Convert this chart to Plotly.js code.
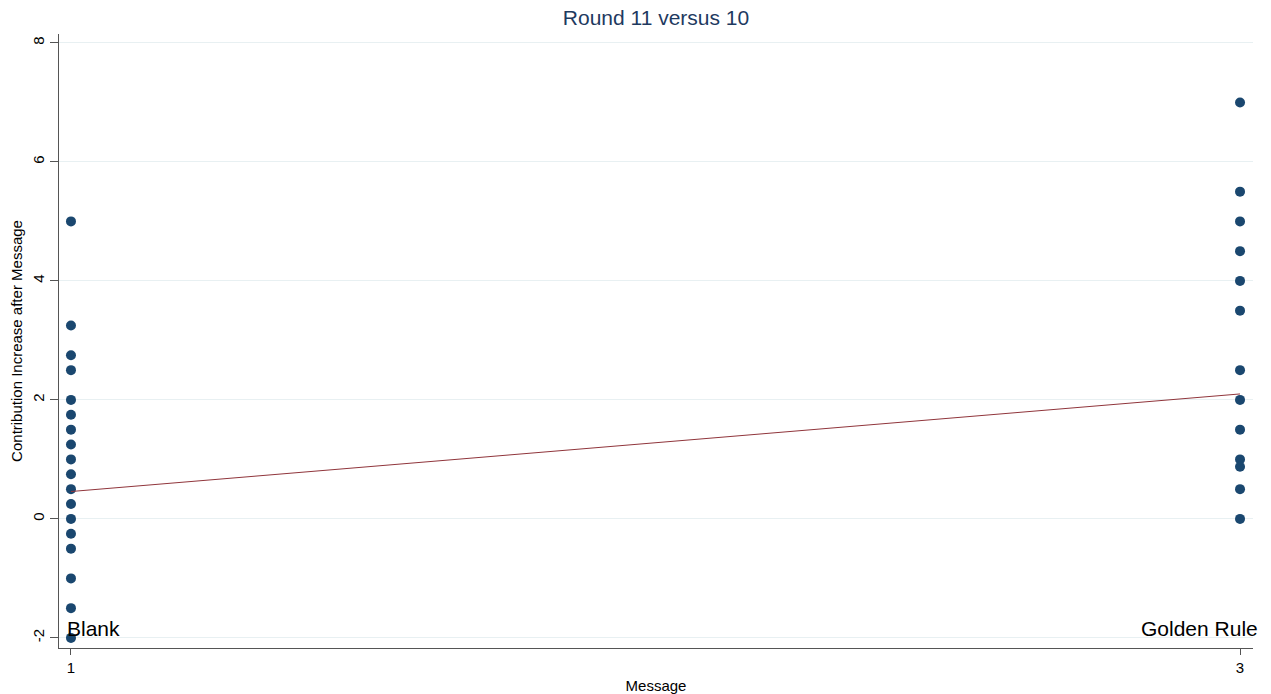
<!DOCTYPE html>
<html>
<head>
<meta charset="utf-8">
<script src="https://cdn.plot.ly/plotly-3.0.1.min.js"></script>
<style>html,body{margin:0;padding:0;background:#fff;}#chart{width:1271px;height:694px;}</style>
</head>
<body>
<div id="chart"></div>
<script>
// Data
const blankX = [1,1,1,1,1,1,1,1,1,1,1,1,1,1,1,1,1,1];
const blankY = [5, 3.25, 2.75, 2.5, 2, 1.75, 1.5, 1.25, 1, 0.75, 0.5, 0.25, 0, -0.25, -0.5, -1, -1.5, -2];
const goldenX = [3,3,3,3,3,3,3,3,3,3,3,3,3];
const goldenY = [7, 5.5, 5, 4.5, 4, 3.5, 2.5, 2, 1.5, 1, 0.875, 0.5, 0];
const fitX = [1, 3];
const fitY = [0.46, 2.1];
const groupLabels = ["Blank", "Golden Rule"];
const groupLabelX = [1, 3];
const groupLabelY = [-2, -2];
const yTicks = [-2, 0, 2, 4, 6, 8];
const xTicks = [1, 3];

const FONT = "Liberation Sans, Arial, Helvetica, sans-serif";
const markerColor = "#1a476f";

const traces = [
  {x: blankX.concat(goldenX), y: blankY.concat(goldenY), type: "scatter", mode: "markers",
   marker: {color: markerColor, size: 10, line: {width: 0}}, hoverinfo: "x+y"},
  {x: fitX, y: fitY, type: "scatter", mode: "lines",
   line: {color: "#90353b", width: 1}, hoverinfo: "x+y"}
];

const annotations = groupLabels.map((t, i) => ({
  x: groupLabelX[i], y: groupLabelY[i], xref: "x", yref: "y",
  text: t, showarrow: false,
  xanchor: i === 0 ? "left" : "right", yanchor: "middle",
  xshift: i === 0 ? -6 : 20, yshift: 9,
  font: {family: FONT, size: 21, color: "#000"}
}));

const layout = {
  width: 1271, height: 694,
  paper_bgcolor: "#fff", plot_bgcolor: "#fff",
  margin: {l: 59, r: 18, t: 34, b: 46, pad: 0},
  showlegend: false,
  font: {family: FONT, color: "#000"},
  title: {text: "Round 11 versus 10", font: {family: FONT, size: 21, color: "#1e3a5f"},
          x: 0.5, xref: "paper", xanchor: "center", y: 0.975, yanchor: "middle", yref: "container"},
  xaxis: {
    range: [0.9795, 3.0222], tickvals: xTicks, ticktext: xTicks.map(String),
    showgrid: false, zeroline: false, showline: true, linecolor: "#555", linewidth: 1,
    ticks: "outside", ticklen: 6, tickcolor: "#555", tickwidth: 1,
    tickfont: {family: FONT, size: 15, color: "#000"},
    title: {text: "Message", font: {family: FONT, size: 15, color: "#000"}, standoff: 6}
  },
  yaxis: {
    range: [-2.17, 8.15], tickvals: yTicks, ticktext: yTicks.map(String),
    showgrid: true, gridcolor: "#e8f0f2", gridwidth: 1,
    zeroline: false, showline: true, linecolor: "#555", linewidth: 1,
    ticks: "outside", ticklen: 8, tickcolor: "#555", tickwidth: 1, tickangle: -90,
    tickfont: {family: FONT, size: 15, color: "#000"},
    title: {text: "Contribution Increase after Message", font: {family: FONT, size: 15, color: "#000"}, standoff: 3}
  },
  annotations: annotations
};

Plotly.newPlot("chart", traces, layout, {displayModeBar: false, staticPlot: true});
</script>
</body>
</html>
